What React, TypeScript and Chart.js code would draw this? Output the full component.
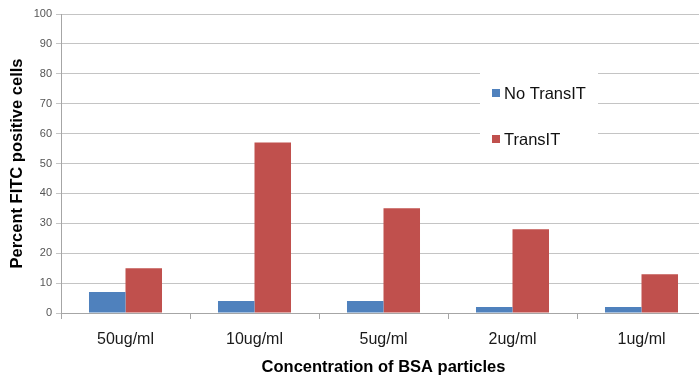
import React, { useEffect, useRef } from "react";
import { Chart, registerables } from "chart.js";

Chart.register(...registerables);

const categories = ["50ug/ml", "10ug/ml", "5ug/ml", "2ug/ml", "1ug/ml"];
const noTransIT = [7, 4, 4, 2, 2];
const transIT = [15, 57, 35, 28, 13];
const yTicks = [0, 10, 20, 30, 40, 50, 60, 70, 80, 90, 100];

const FONT = "'Liberation Sans', Arial, sans-serif";

const legendPlugin = {
  id: "boxLegend",
  afterDraw(chart: any) {
    const ctx = chart.ctx;
    ctx.save();
    ctx.fillStyle = "#ffffff";
    ctx.fillRect(480, 56, 118, 104);
    const items = chart.data.datasets;
    const ys = [94, 140];
    items.forEach((ds: any, i: number) => {
      ctx.fillStyle = ds.backgroundColor;
      ctx.fillRect(492, ys[i] - 5, 8, 8);
      ctx.fillStyle = "#111111";
      ctx.font = `16.5px ${FONT}`;
      ctx.textBaseline = "middle";
      ctx.textAlign = "left";
      ctx.fillText(ds.label, 504, ys[i]);
    });
    ctx.restore();
  },
};

export default function App() {
  const ref = useRef<HTMLCanvasElement>(null);
  useEffect(() => {
    const chart = new Chart(ref.current!, {
      type: "bar",
      data: {
        labels: categories,
        datasets: [
          { label: "No TransIT", data: noTransIT, backgroundColor: "#4F81BD" },
          { label: "TransIT", data: transIT, backgroundColor: "#C0504D" },
        ],
      },
      options: {
        responsive: false,
        animation: false,
        devicePixelRatio: 1,
        layout: { padding: { top: 14, left: 0, right: 0, bottom: 0 } },
        datasets: { bar: { categoryPercentage: 0.566, barPercentage: 1 } },
        plugins: { legend: { display: false }, tooltip: { enabled: false } },
        scales: {
          x: {
            grid: {
              offset: true,
              drawOnChartArea: false,
              drawTicks: true,
              tickLength: 6,
              color: "#a6a6a6",
            },
            border: { color: "#a6a6a6" },
            ticks: {
              font: { family: FONT, size: 16 },
              color: "#1a1a1a",
              padding: 11,
              maxRotation: 0,
            },
            title: {
              display: true,
              text: "Concentration of BSA particles",
              font: { family: FONT, size: 16.5, weight: "bold" },
              color: "#000000",
              padding: { top: 0, bottom: 2 },
            },
            afterFit: (s: any) => {
              s.height = 66;
            },
          },
          y: {
            min: 0,
            max: 100,
            afterBuildTicks: (s: any) => {
              s.ticks = yTicks.map((v) => ({ value: v }));
            },
            grid: { color: "#c4c4c4", tickLength: 5 },
            border: { color: "#a6a6a6" },
            ticks: {
              font: { family: FONT, size: 11 },
              color: "#555555",
              padding: 4,
            },
            title: {
              display: true,
              text: "Percent FITC positive cells",
              font: { family: FONT, size: 16.5, weight: "bold" },
              color: "#000000",
              padding: { top: 8, bottom: 0 },
            },
            afterFit: (s: any) => {
              s.width = 61;
            },
          },
        },
      },
      plugins: [legendPlugin],
    });
    return () => chart.destroy();
  }, []);
  return (
    <div
      style={{
        position: "fixed",
        left: 0,
        top: 0,
        width: 699,
        height: 379,
        overflow: "hidden",
        background: "#ffffff",
      }}
    >
      <canvas ref={ref} width={706} height={379} style={{ display: "block" }} />
    </div>
  );
}
